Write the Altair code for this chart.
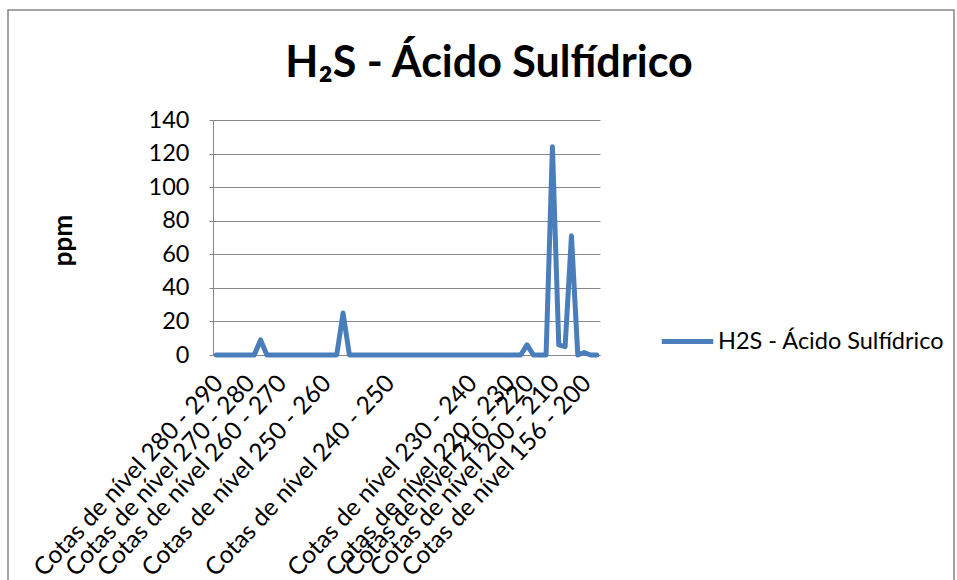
import altair as alt
import pandas as pd

# H2S readings (ppm), one per sampling point, in field order
h2s_ppm = [
    0, 0, 0, 0, 0, 0, 0, 9, 0, 0,
    0, 0, 0, 0, 0, 0, 0, 0, 0, 0,
    25, 0, 0, 0, 0, 0, 0, 0, 0, 0,
    0, 0, 0, 0, 0, 0, 0, 0, 0, 0,
    0, 0, 0, 0, 0, 0, 0, 0, 0, 6,
    0, 0, 0, 124, 6, 5, 71, 0, 1.5, 0,
    0,
]

# first sampling point of each elevation band and its label
band_start = [0, 5, 10, 17, 27, 40, 46, 49, 53, 58]
band_label = [
    "Cotas de nível 280 - 290",
    "Cotas de nível 270 - 280",
    "Cotas de nível 260 - 270",
    "Cotas de nível 250 - 260",
    "Cotas de nível 240 - 250",
    "Cotas de nível 230 - 240",
    "Cotas de nível 220 - 230",
    "Cotas de nível 210 - 220",
    "Cotas de nível 200 - 210",
    "Cotas de nível 156 - 200",
]

series_name = "H2S - Ácido Sulfídrico"
chart_title = "H₂S - Ácido Sulfídrico"
y_ticks = [0, 20, 40, 60, 80, 100, 120, 140]

FONT = "Lato"
LINE_BLUE = "#4a7ebb"
GRAY = "#868686"

n = len(h2s_ppm)
df = pd.DataFrame({"ponto": list(range(n)), "ppm": h2s_ppm, "serie": series_name})

# category text per point: band name on the first point of each band, blank otherwise
point_text = [""] * n
for pos, txt in zip(band_start, band_label):
    point_text[pos] = txt
label_expr = "[" + ",".join("'" + t + "'" for t in point_text) + "][datum.value]"

line = alt.Chart(df).mark_line(
    strokeWidth=5, strokeJoin="round", strokeCap="round"
).encode(
    x=alt.X(
        "ponto:Q",
        scale=alt.Scale(domain=[-0.5, n - 0.5], nice=False, zero=False),
        axis=alt.Axis(
            values=band_start,
            labelExpr=label_expr,
            labelAngle=313,
            labelAlign="right",
            labelBaseline="top",
            labelPadding=16,
            labelOffset=-6,
            labelOverlap=False,
            labelFlush=False,
            labelBound=False,
            labelLimit=500,
            labelFont=FONT,
            labelFontSize=24.5,
            labelColor="#000000",
            ticks=False,
            grid=False,
            domainColor=GRAY,
            domainWidth=1,
            title=None,
        ),
    ),
    y=alt.Y(
        "ppm:Q",
        scale=alt.Scale(domain=[0, 140], nice=False),
        axis=alt.Axis(
            values=y_ticks,
            title="ppm",
            titleFont=FONT,
            titleFontSize=26,
            titleFontWeight="bold",
            titleColor="#000000",
            titleAngle=270,
            titleAlign="center",
            titleBaseline="alphabetic",
            titleX=-142,
            titleY=120,
            labelFont=FONT,
            labelFontSize=23.5,
            labelColor="#000000",
            labelPadding=20,
            tickSize=4,
            tickColor=GRAY,
            domainColor=GRAY,
            gridColor=GRAY,
            gridWidth=1,
        ),
    ),
    color=alt.Color(
        "serie:N",
        scale=alt.Scale(range=[LINE_BLUE]),
        legend=alt.Legend(
            orient="none",
            legendX=446,
            legendY=193,
            title=None,
            symbolType="stroke",
            symbolSize=2650,
            symbolStrokeWidth=5,
            labelFont=FONT,
            labelFontSize=23.5,
            labelColor="#000000",
            labelOffset=2,
            labelLimit=500,
            padding=0,
        ),
    ),
)

one_row = pd.DataFrame({"t": [chart_title]})

title = alt.Chart(one_row).mark_text(
    font=FONT, fontSize=43, fontWeight="bold", align="center",
    baseline="alphabetic", color="#000000",
).encode(text="t:N", x=alt.value(276), y=alt.value(-43))

frame = alt.Chart(one_row).mark_rect(
    filled=False, stroke=GRAY, strokeWidth=1.5
).encode(
    x=alt.value(-205), x2=alt.value(741), y=alt.value(-110), y2=alt.value(480)
)

chart = alt.layer(frame, line, title).properties(
    width=387,
    height=235,
    autosize=alt.AutoSizeParams(type="none"),
    padding={"left": 213, "top": 120, "right": 357, "bottom": 225},
    background="white",
).configure_view(stroke=None)

chart.save("out.html", embed_options={"renderer": "svg", "actions": False})
